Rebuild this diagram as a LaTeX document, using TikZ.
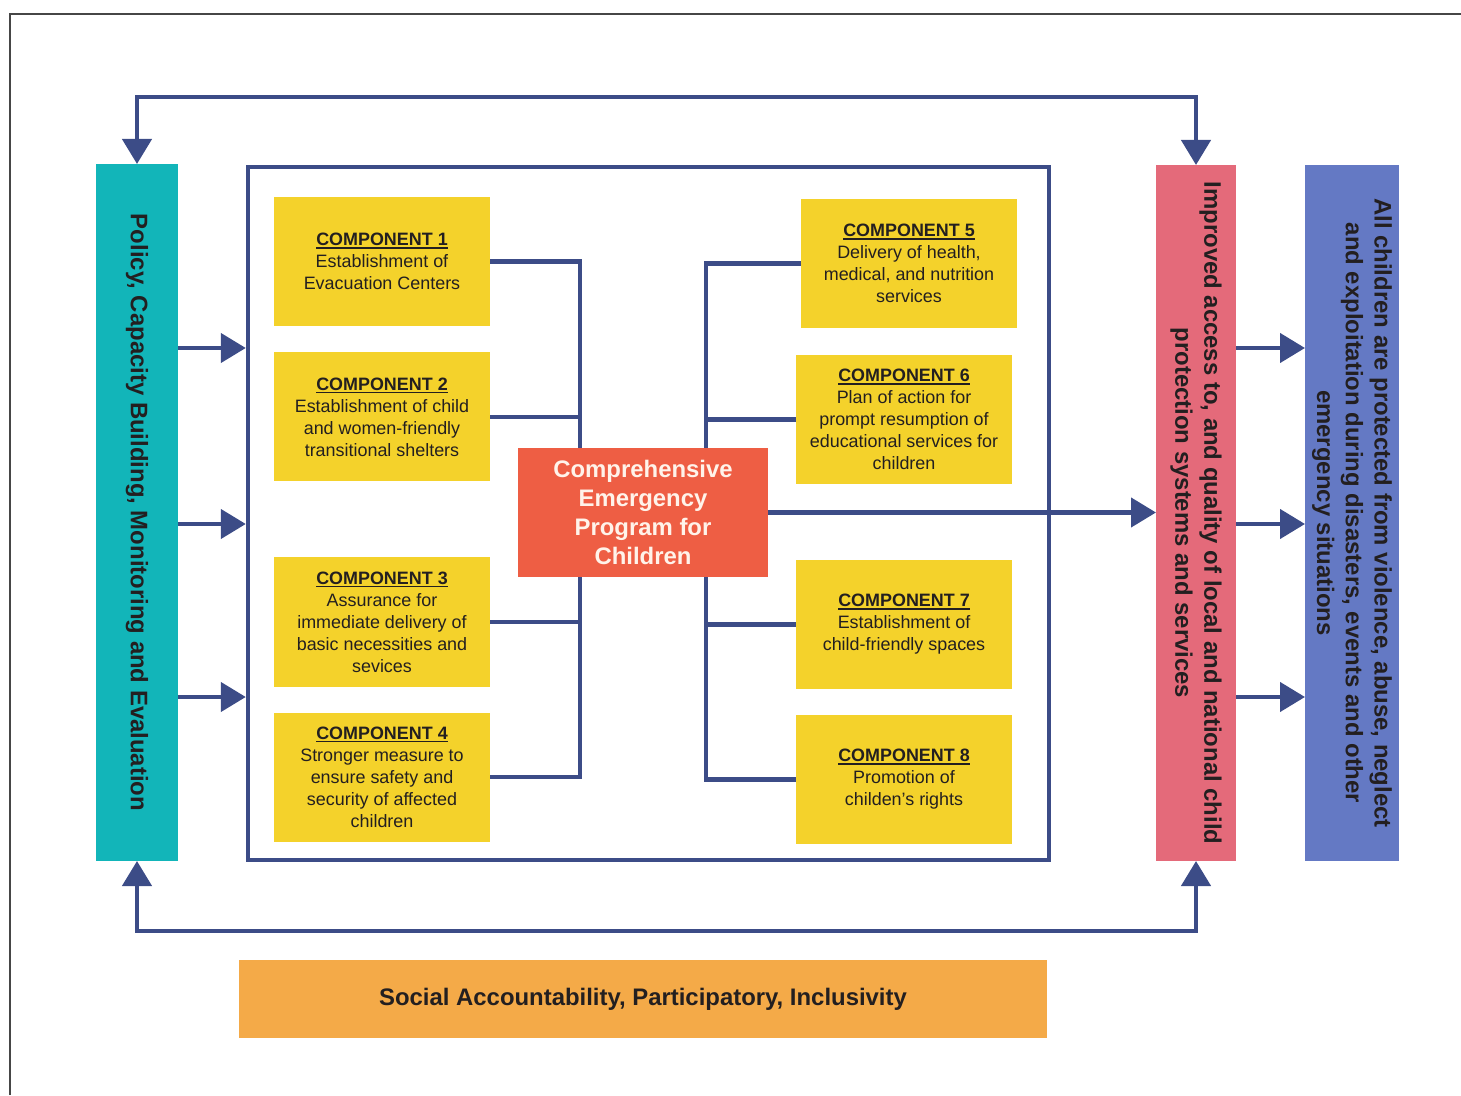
\documentclass[tikz,border=0pt]{standalone}
\usepackage{fontspec}
\setmainfont{Liberation Sans}
\usetikzlibrary{arrows.meta, positioning}
\definecolor{navy}{HTML}{3C4C87}
\definecolor{tealbox}{HTML}{12B5B9}
\definecolor{compyellow}{HTML}{F4D22B}
\definecolor{hubred}{HTML}{EE5E44}
\definecolor{accessred}{HTML}{E46A7A}
\definecolor{goalblue}{HTML}{6479C4}
\definecolor{valueorange}{HTML}{F4AA48}
\definecolor{inkdark}{HTML}{231F20}
\definecolor{hubtext}{HTML}{FFF3EA}

% bold heading with a thin rule under it
\newcommand{\comptitle}[1]{\leavevmode\vtop{\hbox{\bfseries #1}\kern0.7pt\hrule height 0.8pt}}

\begin{document}
\begin{tikzpicture}[
    box/.style={rectangle, outer sep=0pt, inner sep=2pt},
    comp/.style={box, fill=compyellow, minimum width=4.32cm, minimum height=2.58cm,
        align=center, text=inkdark, font=\fontsize{10.2}{12.5}\selectfont},
    vtext/.style={rotate=-90, align=center, text=inkdark,
        font=\fontsize{13.6}{16.4}\selectfont\bfseries},
    link/.style={draw=navy, line width=2.5pt},
    arr/.style={link, -{Triangle[width=0.58cm, length=0.5cm]}},
    twoway/.style={link, {Triangle[width=0.58cm, length=0.5cm]}-{Triangle[width=0.58cm, length=0.5cm]}},
]

\useasboundingbox (0,0) rectangle (29.22,21.90);

% page rule
\draw[gray!55!black, line width=0.8pt] (0.20,0) |- (29.22,21.62);

% the three tall columns
\node[box, fill=tealbox, minimum width=1.64cm, minimum height=13.94cm] (policy) at (2.74,11.65) {};
\node[vtext] (policytext) at (policy.center)
    {Policy, Capacity Building, Monitoring and Evaluation};

\node[box, fill=accessred, minimum width=1.60cm, minimum height=13.92cm] (access) at (23.92,11.64) {};
\node[vtext] (accesstext) at (access.center)
    {Improved access to, and quality of local and national child\\
     protection systems and services};

\node[box, fill=goalblue, minimum width=1.88cm, minimum height=13.92cm] (goal) at (27.04,11.64) {};
\node[vtext] (goaltext) at (goal.center)
    {All children are protected from violence, abuse, neglect\\
     and exploitation during disasters, events and other\\
     emergency situations};

% program frame
\node[draw=navy, line width=2.5pt, rectangle, minimum width=16.02cm, minimum height=13.86cm] (core) at (12.97,11.63) {};

% components
\node[comp] (c1) at (7.64,16.67) {\comptitle{COMPONENT 1}\\Establishment of\\Evacuation Centers};
\node[comp] (c2) at (7.64,13.56) {\comptitle{COMPONENT 2}\\Establishment of child\\and women-friendly\\transitional shelters};
\node[comp] (c3) at (7.64,9.46) {\comptitle{COMPONENT 3}\\Assurance for\\immediate delivery of\\basic necessities and\\sevices};
\node[comp] (c4) at (7.64,6.36) {\comptitle{COMPONENT 4}\\Stronger measure to\\ensure safety and\\security of affected\\children};

\node[comp] (c5) at (18.18,16.63) {\comptitle{COMPONENT 5}\\Delivery of health,\\medical, and nutrition\\services};
\node[comp] (c6) at (18.08,13.51) {\comptitle{COMPONENT 6}\\Plan of action for\\prompt resumption of\\educational services for\\children};
\node[comp] (c7) at (18.08,9.41) {\comptitle{COMPONENT 7}\\Establishment of\\child-friendly spaces};
\node[comp] (c8) at (18.08,6.31) {\comptitle{COMPONENT 8}\\Promotion of\\childen's rights};

% buses into the program box
\draw[link] (c1.east) -- ++(1.80,0) |- (c4.east);
\draw[link] (c2.east) -- ++(1.80,0);
\draw[link] (c3.east) -- ++(1.80,0);
\draw[link] (c5.west) -- ++(-1.90,0) |- (c8.west);
\draw[link] (c6.west) -- ++(-1.80,0);
\draw[link] (c7.west) -- ++(-1.80,0);

\node[box, fill=hubred, minimum width=5.00cm, minimum height=2.58cm, align=center,
    text=hubtext, font=\fontsize{13.6}{16.4}\selectfont\bfseries] (hub) at (12.86,11.65)
    {Comprehensive\\Emergency\\Program for\\Children};

% flows
\draw[arr] (hub.east) -- (access.west |- hub.east);
\foreach \y in {14.94,11.42,7.96}{
    \draw[arr] (policy.east |- 0,\y) -- (core.west |- 0,\y);
    \draw[arr] (access.east |- 0,\y) -- (goal.west |- 0,\y);
}

% feedback loops
\draw[twoway] (policy.north) -- ++(0,1.34) -| (access.north);
\draw[twoway] (policy.south) -- ++(0,-1.40) -| (access.south);

\node[box, fill=valueorange, minimum width=16.16cm, minimum height=1.56cm, text=inkdark,
    font=\fontsize{13.6}{16.4}\selectfont\bfseries] (values) at (12.86,1.92)
    {Social Accountability, Participatory, Inclusivity};

\end{tikzpicture}
\end{document}
